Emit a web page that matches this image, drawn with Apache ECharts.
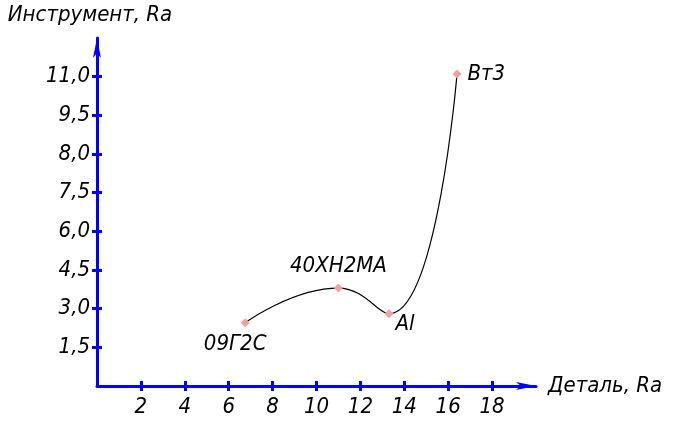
<!DOCTYPE html>
<html lang="ru">
<head>
<meta charset="UTF-8"/>
<script src="https://cdn.jsdelivr.net/npm/echarts@6/dist/echarts.min.js"></script>
<title>Ra</title>
<style>
  html, body { margin: 0; padding: 0; background: #fff; }
</style>
</head>
<body>
<div id="main" style="width:675px;height:421px;"></div>
<script type="text/javascript">
// данные графика
var materials = ['09Г2С', '40ХН2МА', 'Al', 'Вт3'];
var detailRa = [6.75, 11.0, 13.3, 16.4];
var toolRa = [2.45, 3.8, 2.8, 12.1];
var xTickValues = [2, 4, 6, 8, 10, 12, 14, 16, 18];
var yTickValues = [1.5, 3, 4.5, 6, 7.5, 9, 10.5, 12];
var yTickLabels = ['1,5', '3,0', '4,5', '6,0', '7,5', '8,0', '9,5', '11,0'];
var labelPos = ['bottom', 'top', 'right', 'right'];
var labelOffset = [[-10, 0], [0, 0], [-4, 10], [0, 0]];

var FONT = '"DejaVu Sans Condensed", "DejaVu Sans", sans-serif';
var BLUE = '#0000ff';

var myChart = echarts.init(document.getElementById('main'));

var points = [];
for (var i = 0; i < materials.length; i++) {
    points.push({
        name: materials[i],
        value: [detailRa[i], toolRa[i]],
        label: { position: labelPos[i], offset: labelOffset[i] }
    });
}

var baseText = { fontFamily: FONT, fontStyle: 'italic', color: '#000', fontSize: 22 };

option = {
    backgroundColor: '#fff',
    animation: false,
    grid: { left: 97, right: 139, top: 38, bottom: 35 },
    xAxis: [
        {
            type: 'value', min: 0, max: 20,
            name: 'Деталь, Ra', nameLocation: 'end', nameGap: 12,
            nameTextStyle: baseText,
            splitLine: { show: false },
            axisLine: { lineStyle: { color: BLUE, width: 3 }, symbol: ['none', 'arrow'], symbolSize: [6, 20] },
            axisTick: { customValues: xTickValues, length: 5, lineStyle: { color: BLUE, width: 3 } },
            axisLabel: { customValues: xTickValues, margin: 10, fontFamily: FONT, fontStyle: 'italic', color: '#000', fontSize: 22 }
        },
        {
            type: 'value', min: 0, max: 20, position: 'bottom',
            splitLine: { show: false },
            axisLine: { show: false },
            axisTick: { customValues: xTickValues, inside: true, length: 5, lineStyle: { color: BLUE, width: 3 } },
            axisLabel: { show: false }
        }
    ],
    yAxis: [
        {
            type: 'value', min: 0, max: 13.5,
            name: 'Инструмент, Ra', nameLocation: 'end', nameGap: 12,
            nameTextStyle: Object.assign({}, baseText, { padding: [0, 14, 0, 0] }),
            splitLine: { show: false },
            axisLine: { lineStyle: { color: BLUE, width: 3 }, symbol: ['none', 'arrow'], symbolSize: [6, 20] },
            axisTick: { customValues: yTickValues, length: 5, lineStyle: { color: BLUE, width: 3 } },
            axisLabel: {
                customValues: yTickValues, margin: 7,
                fontFamily: FONT, fontStyle: 'italic', color: '#000', fontSize: 22,
                formatter: function (v) {
                    var k = yTickValues.indexOf(v);
                    return k >= 0 ? yTickLabels[k] : '';
                }
            }
        },
        {
            type: 'value', min: 0, max: 13.5, position: 'left',
            splitLine: { show: false },
            axisLine: { show: false },
            axisTick: { customValues: yTickValues, inside: true, length: 5, lineStyle: { color: BLUE, width: 3 } },
            axisLabel: { show: false }
        }
    ],
    series: [
        {
            type: 'line',
            data: points,
            smooth: 0.5,
            symbol: 'diamond',
            symbolSize: 9,
            itemStyle: { color: '#f4a0a0' },
            lineStyle: { color: '#000', width: 1.2 },
            label: {
                show: true,
                formatter: '{b}',
                fontFamily: FONT, fontStyle: 'italic', color: '#000', fontSize: 22,
                distance: 6
            },
            z: 5
        }
    ]
};

myChart.setOption(option);
</script>
</body>
</html>
